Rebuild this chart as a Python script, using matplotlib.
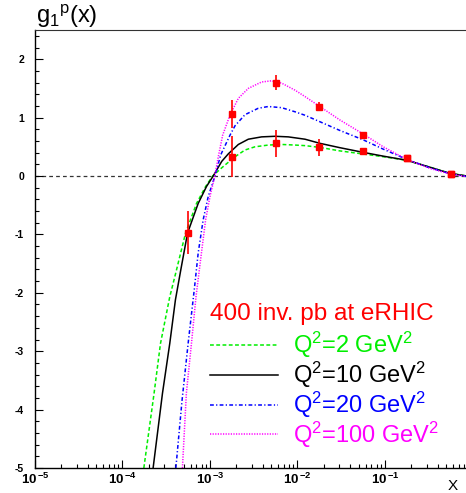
import numpy as np
import matplotlib
matplotlib.use("Agg")
import matplotlib.pyplot as plt
from matplotlib.ticker import FixedLocator, MultipleLocator, LogLocator, NullFormatter

plt.rcParams['font.family'] = ['Liberation Sans', 'DejaVu Sans']
plt.rcParams['mathtext.fontset'] = 'custom'
plt.rcParams['mathtext.rm'] = 'Liberation Sans'
plt.rcParams['mathtext.it'] = 'Liberation Sans'
plt.rcParams['mathtext.bf'] = 'Liberation Sans:bold'

# curves: log10(x) and g1p
lx_q2 = [-3.756, -3.639, -3.566, -3.46, -3.383, -3.28, -3.154, -3.05, -2.97, -2.866, -2.771,
         -2.714, -2.6, -2.486, -2.333, -2.181, -2.029, -1.914, -1.745, -1.516, -1.25, -1.02,
         -0.752, -0.486, -0.257, -0.066]
g_q2 = [-5.0, -3.72, -2.87, -2.07, -1.61, -0.98, -0.47, -0.18, 0.0, 0.14, 0.26,
        0.33, 0.445, 0.50, 0.53, 0.54, 0.53, 0.52, 0.49, 0.43, 0.377, 0.33,
        0.27, 0.15, 0.045, 0.0]

lx_q10 = [-3.65, -3.543, -3.46, -3.395, -3.334, -3.257, -3.135, -3.04, -2.963, -2.866, -2.79,
          -2.676, -2.562, -2.41, -2.257, -2.105, -1.914, -1.745, -1.516, -1.25, -1.02, -0.752,
          -0.486, -0.257, -0.066]
g_q10 = [-5.0, -3.72, -2.87, -2.12, -1.61, -0.98, -0.47, -0.18, 0.0, 0.25, 0.38,
         0.54, 0.63, 0.67, 0.68, 0.67, 0.63, 0.56, 0.485, 0.405, 0.34, 0.27,
         0.15, 0.045, 0.0]

lx_q20 = [-3.39, -3.32, -3.25, -3.18, -3.135, -3.078, -3.02, -2.943, -2.878, -2.771, -2.714,
          -2.6, -2.448, -2.333, -2.181, -2.029, -1.914, -1.745, -1.516, -1.25, -1.02, -0.752,
          -0.486, -0.257, -0.066]
g_q20 = [-5.0, -3.85, -2.87, -1.95, -1.32, -0.75, -0.35, 0.0, 0.36, 0.70, 0.86,
         1.05, 1.16, 1.19, 1.17, 1.10, 1.04, 0.93, 0.78, 0.62, 0.46, 0.285,
         0.14, 0.04, -0.01]

lx_q100 = [-3.315, -3.27, -3.212, -3.16, -3.103, -3.05, -3.0, -2.945, -2.905, -2.855, -2.771,
           -2.676, -2.562, -2.41, -2.295, -2.181, -2.029, -1.914, -1.745, -1.516, -1.25, -1.02,
           -0.752, -0.486, -0.257, -0.066]
g_q100 = [-5.0, -3.72, -2.87, -2.07, -1.38, -0.75, -0.35, 0.0, 0.33, 0.70, 1.045,
          1.33, 1.50, 1.61, 1.63, 1.59, 1.47, 1.36, 1.19, 0.96, 0.72, 0.50,
          0.285, 0.13, 0.034, -0.01]

# projected eRHIC points
lx_pts = [-3.25, -2.75, -2.25, -1.75, -1.25, -0.75, -0.25]
g_lo = [-0.97, 0.33, 0.56, 0.49, 0.42, 0.30, 0.04]
e_lo = [0.37, 0.355, 0.23, 0.14, 0.06, 0.03, 0.02]
g_hi = [1.06, 1.60, 1.19, 0.71, 0.30, 0.04]
e_hi = [0.24, 0.13, 0.08, 0.03, 0.02, 0.01]

labels = ['Q$^2$=2 GeV$^2$', 'Q$^2$=10 GeV$^2$', 'Q$^2$=20 GeV$^2$', 'Q$^2$=100 GeV$^2$']
colors = ['#00ee00', '#000000', '#0000ff', '#ff00ff']
xticks = [1e-5, 1e-4, 1e-3, 1e-2, 1e-1]
xticklabels = [r'$\mathbf{10}^{\,\mathbf{-5}}$', r'$\mathbf{10}^{\,\mathbf{-4}}$',
               r'$\mathbf{10}^{\,\mathbf{-3}}$', r'$\mathbf{10}^{\,\mathbf{-2}}$',
               r'$\mathbf{10}^{\,\mathbf{-1}}$']
yticks = [-5, -4, -3, -2, -1, 0, 1, 2]

fig = plt.figure(figsize=(4.66, 4.93), dpi=100)
ax = fig.add_axes([35/466, 25/493, 431/466, 438/493])

ax.axhline(0, color='#333333', lw=0.9, ls=(0, (3, 2.5)), zorder=1)

styles = [(0, (2.5, 1.6)), '-', (0, (2.5, 1.5, 0.8, 1.5)), (0, (0.8, 0.9))]
curves = [(lx_q2, g_q2), (lx_q10, g_q10), (lx_q20, g_q20), (lx_q100, g_q100)]
for (lx, g), c, ls, lab in zip(curves, colors, styles, labels):
    ax.plot(10**np.array(lx), g, color=c, ls=ls, lw=1.1, label=lab, zorder=2)

ax.errorbar(10**np.array(lx_pts), g_lo, yerr=e_lo, fmt='s', color='#ff0000', ms=4.5,
            elinewidth=1.2, capsize=0, zorder=3)
ax.errorbar(10**np.array(lx_pts[1:]), g_hi, yerr=e_hi, fmt='s', color='#ff0000', ms=4.5,
            elinewidth=1.2, capsize=0, zorder=3)

ax.set_xscale('log')
ax.set_xlim(1e-5, 10**-0.074)
ax.set_ylim(-5, 2.5)

ax.xaxis.set_major_locator(FixedLocator(xticks))
ax.set_xticklabels(xticklabels, fontsize=9.5)
ax.xaxis.set_minor_locator(LogLocator(base=10, subs=np.arange(2, 10)))
ax.xaxis.set_minor_formatter(NullFormatter())
ax.set_yticks(yticks)
ax.set_yticklabels([str(v) for v in yticks], fontsize=7.5, fontweight='bold')
ax.yaxis.set_minor_locator(MultipleLocator(0.2))

ax.tick_params(which='both', direction='in', top=False, right=False, width=0.8)
ax.tick_params(which='major', length=5.5)
ax.tick_params(which='minor', length=3)
ax.tick_params(axis='y', pad=8)
ax.tick_params(axis='x', pad=3)

ax.spines['right'].set_visible(False)
ax.spines['top'].set_color('#333333')
ax.spines['top'].set_linewidth(0.8)
ax.spines['left'].set_linewidth(1.0)
ax.spines['bottom'].set_linewidth(1.0)

ax.text(0.002, 1.0, 'g$_1$$^p$(x)', transform=ax.transAxes, fontsize=17,
        ha='left', va='bottom')
fig.text(448/466, 0, 'X', fontsize=11, ha='left', va='bottom')

fig.text(210/466, 1 - 314/493, '400 inv. pb at eRHIC', color='#ff0000', fontsize=17.5,
         ha='left', va='center')
leg = ax.legend(loc='upper left', bbox_to_anchor=(210/466, 1 - 330/493),
                bbox_transform=fig.transFigure, frameon=False, fontsize=17,
                handlelength=2.9, handletextpad=0.6, labelspacing=-0.015,
                borderpad=0, borderaxespad=0, labelcolor='linecolor')

fig.savefig('out.png', dpi=100)
